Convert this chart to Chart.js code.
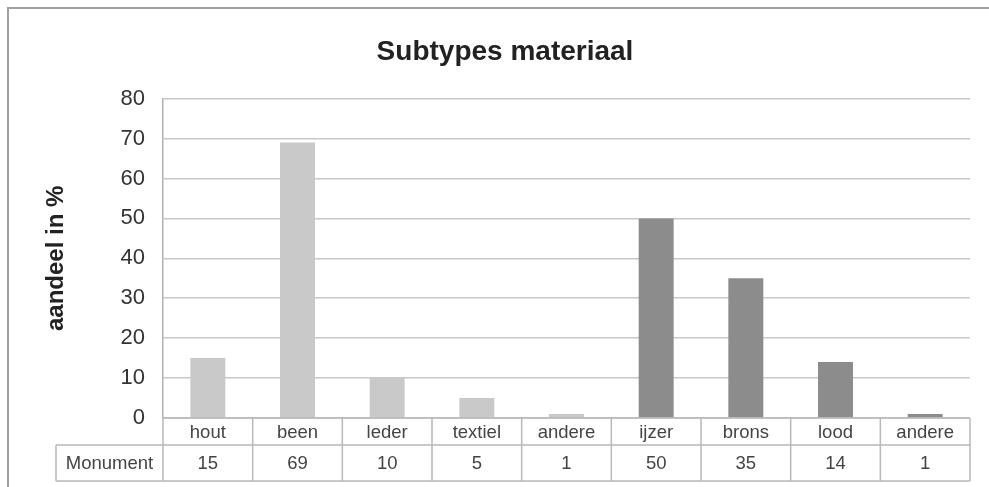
<!DOCTYPE html>
<html>
<head>
<meta charset="utf-8">
<script src="https://cdn.jsdelivr.net/npm/chart.js@4"></script>
<style>
  html, body { margin: 0; padding: 0; background: #fff; }
  #wrap { width: 989px; height: 487px; position: relative; }
</style>
</head>
<body>
<div id="wrap"><canvas id="chart"></canvas></div>
<script>
// subtypes per groep
const organisch = ["hout", "been", "leder", "textiel", "andere"];
const metaal = ["ijzer", "brons", "lood", "andere"];
const monument = [15, 69, 10, 5, 1, 50, 35, 14, 1];
const reeksNaam = "Monument";

const categorieen = organisch.concat(metaal);
const kleuren = categorieen.map((c, i) => (i < organisch.length ? "#c9c9c9" : "#8c8c8c"));

// kader rond de grafiek
const kader = {
  id: "kader",
  beforeDraw(chart) {
    const ctx = chart.ctx;
    ctx.save();
    ctx.fillStyle = "#fff";
    ctx.fillRect(0, 0, chart.width, chart.height);
    ctx.strokeStyle = "#a0a0a0";
    ctx.lineWidth = 2;
    ctx.beginPath();
    ctx.moveTo(8, chart.height);
    ctx.lineTo(8, 8);
    ctx.lineTo(chart.width, 8);
    ctx.stroke();
    ctx.restore();
  },
};

// datatabel onder de x-as
const tabel = {
  id: "tabel",
  afterDraw(chart) {
    const { ctx, chartArea } = chart;
    const x = chart.scales.x;
    const labels = chart.data.labels;
    const data = chart.data.datasets[0].data;
    const n = labels.length;
    const step = (chartArea.right - chartArea.left) / n;
    const top = chartArea.bottom;
    const mid = top + 27;
    const bot = top + 63;
    const links = 56;

    ctx.save();
    ctx.strokeStyle = "#b8b8b8";
    ctx.lineWidth = 1.5;
    ctx.beginPath();
    ctx.moveTo(chartArea.left, top);
    ctx.lineTo(chartArea.right, top);
    ctx.moveTo(links, mid);
    ctx.lineTo(chartArea.right, mid);
    ctx.moveTo(links, bot);
    ctx.lineTo(chartArea.right, bot);
    ctx.moveTo(links, mid);
    ctx.lineTo(links, bot);
    for (let i = 0; i <= n; i++) {
      const xb = x.getPixelForValue(i) - step / 2;
      ctx.moveTo(xb, top);
      ctx.lineTo(xb, bot);
    }
    ctx.stroke();

    ctx.fillStyle = "#444";
    ctx.textAlign = "center";
    ctx.textBaseline = "middle";
    ctx.font = "18.5px 'Liberation Sans', Arial, sans-serif";
    for (let i = 0; i < n; i++) {
      const xc = x.getPixelForValue(i);
      ctx.fillText(labels[i], xc, (top + mid) / 2 + 1);
      ctx.fillText(String(data[i]), xc, (mid + bot) / 2 + 1);
    }
    ctx.fillText(chart.data.datasets[0].label, (links + chartArea.left) / 2, (mid + bot) / 2 + 1);
    ctx.restore();
  },
};

const ctx = document.getElementById("chart").getContext("2d");
const grafiek = new Chart(ctx, {
  type: "bar",
  data: {
    labels: categorieen,
    datasets: [
      {
        label: reeksNaam,
        data: monument,
        backgroundColor: kleuren,
        barPercentage: 0.39,
        categoryPercentage: 1,
      },
    ],
  },
  options: {
    responsive: true,
    maintainAspectRatio: false,
    animation: false,
    layout: { padding: { left: 40, right: 19, bottom: 69, top: 0 } },
    plugins: {
      legend: { display: false },
      tooltip: { enabled: false },
      title: {
        display: true,
        text: "Subtypes materiaal",
        color: "#222",
        font: { family: "'Liberation Sans', Arial, sans-serif", size: 28, weight: "bold" },
        padding: { top: 35, bottom: 30 },
      },
    },
    scales: {
      x: { display: false },
      y: {
        min: 0,
        max: 80,
        afterFit(scale) {
          scale.width = 123;
        },
        ticks: {
          stepSize: 10,
          padding: 18,
          color: "#333",
          font: { family: "'Liberation Sans', Arial, sans-serif", size: 22 },
        },
        grid: { color: "#c8c8c8", lineWidth: 1.5, drawTicks: false },
        border: { color: "#b0b0b0", width: 1.5 },
        title: {
          display: true,
          text: "aandeel in %",
          color: "#222",
          font: { family: "'Liberation Sans', Arial, sans-serif", size: 24, weight: "bold" },
          padding: { top: 2, bottom: 0 },
        },
      },
    },
  },
  plugins: [kader, tabel],
});
</script>
</body>
</html>
